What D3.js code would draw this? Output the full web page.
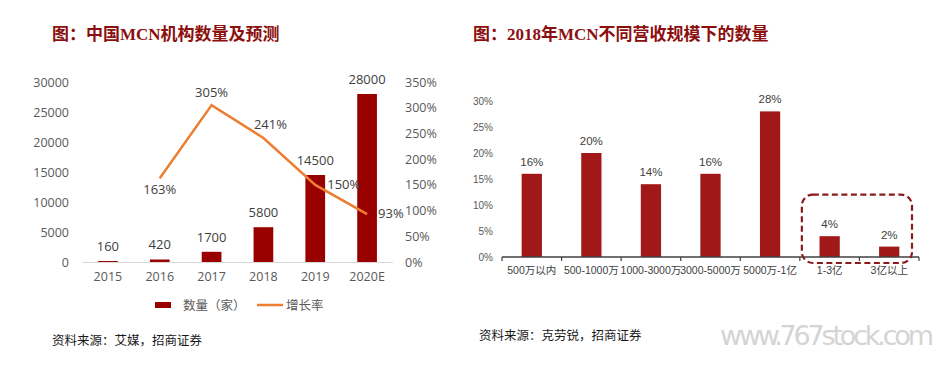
<!DOCTYPE html>
<html>
<head>
<meta charset="utf-8">
<script src="https://cdn.jsdelivr.net/npm/d3@7"></script>
<style>
body{margin:0;background:#fff;}
svg{display:block;}
text{font-family:"Noto Sans CJK SC","Noto Sans",sans-serif;}
.title{font-family:"Liberation Serif","Noto Sans CJK SC",serif;font-weight:bold;font-size:17px;fill:#8c0f0f;}
.src{font-family:"Liberation Serif","Noto Sans CJK SC",serif;font-size:12.5px;fill:#1a1a1a;}
</style>
</head>
<body>
<svg id="chart" width="940" height="365"></svg>
<script>
// left chart: MCN count + growth
var years = ["2015", "2016", "2017", "2018", "2019", "2020E"];
var counts = [160, 420, 1700, 5800, 14500, 28000];
var growth = [null, 1.63, 3.05, 2.41, 1.50, 0.93];
var countTicks = [0, 5000, 10000, 15000, 20000, 25000, 30000];
var growthTicks = [0, 0.5, 1, 1.5, 2, 2.5, 3, 3.5];

// right chart: share by revenue scale, 2018
var revCats = ["500万以内", "500-1000万", "1000-3000万", "3000-5000万", "5000万-1亿", "1-3亿", "3亿以上"];
var revShares = [0.16, 0.20, 0.14, 0.16, 0.28, 0.04, 0.02];
var shareTicks = [0, 0.05, 0.10, 0.15, 0.20, 0.25, 0.30];

var svg = d3.select("#chart");
var pct = d3.format(".0%");

// ---------- left ----------
svg.append("text").attr("class", "title").attr("x", 52).attr("y", 40)
	.text("图：中国MCN机构数量及预测");

var x = d3.scaleBand().domain(years).range([82, 393]).paddingInner(0.62).paddingOuter(0.31);
var yL = d3.scaleLinear().domain([0, 30000]).range([262, 82]);
var yR = d3.scaleLinear().domain([0, 3.5]).range([262, 82]);

var gl = svg.append("g").attr("transform", "translate(69,0)")
	.call(d3.axisLeft(yL).tickValues(countTicks).tickSize(0).tickPadding(0).tickFormat(d3.format("d")));
gl.select(".domain").remove();
gl.selectAll("text").attr("font-size", 12.5).attr("fill", "#595959")
	.style("font-family", "'Open Sans',sans-serif");

var gr = svg.append("g").attr("transform", "translate(405,0)")
	.call(d3.axisRight(yR).tickValues(growthTicks).tickSize(0).tickPadding(0).tickFormat(pct));
gr.select(".domain").remove();
gr.selectAll("text").attr("font-size", 12.5).attr("fill", "#595959")
	.style("font-family", "'Open Sans',sans-serif");

svg.append("g").selectAll("rect").data(counts).join("rect")
	.attr("x", function(d, i){ return x(years[i]); })
	.attr("y", function(d){ return yL(d); })
	.attr("width", x.bandwidth())
	.attr("height", function(d){ return 262 - yL(d); })
	.attr("fill", "#990000");

svg.append("line").attr("x1", 82).attr("x2", 393).attr("y1", 262.5).attr("y2", 262.5)
	.attr("stroke", "#d9d9d9").attr("stroke-width", 1);

svg.append("g").selectAll("text").data(counts).join("text")
	.attr("x", function(d, i){ return x(years[i]) + x.bandwidth() / 2; })
	.attr("y", function(d){ return yL(d) - 10; })
	.attr("text-anchor", "middle").attr("font-size", 13).attr("fill", "#404040")
	.style("font-family", "'Open Sans',sans-serif")
	.text(function(d){ return d; });

var gx = svg.append("g").attr("transform", "translate(0,270)")
	.call(d3.axisBottom(x).tickSize(0).tickPadding(0));
gx.select(".domain").remove();
gx.selectAll("text").attr("font-size", 12.5).attr("fill", "#595959").attr("dy", "0.9em")
	.style("font-family", "'Open Sans',sans-serif");

var pts = [];
growth.forEach(function(g, i){ if(g !== null) pts.push({i: i, v: g}); });

var line = d3.line()
	.x(function(d){ return x(years[d.i]) + x.bandwidth() / 2; })
	.y(function(d){ return yR(d.v); });
svg.append("path").datum(pts).attr("d", line)
	.attr("fill", "none").attr("stroke", "#ed7d31").attr("stroke-width", 2.5);

// label placement for growth line
var off = {1: [0, 16, "middle"], 2: [0, -8, "middle"], 3: [7, -9, "middle"], 4: [12, 4, "start"], 5: [11, 4, "start"]};
svg.append("g").selectAll("text").data(pts).join("text")
	.attr("x", function(d){ return x(years[d.i]) + x.bandwidth() / 2 + off[d.i][0]; })
	.attr("y", function(d){ return yR(d.v) + off[d.i][1]; })
	.attr("text-anchor", function(d){ return off[d.i][2]; })
	.attr("font-size", 13).attr("fill", "#404040")
	.style("font-family", "'Open Sans',sans-serif")
	.text(function(d){ return pct(d.v); });

// legend
var lg = svg.append("g");
lg.append("rect").attr("x", 155).attr("y", 302).attr("width", 16).attr("height", 6).attr("fill", "#990000");
lg.append("text").attr("x", 183).attr("y", 309.5).attr("font-size", 12.5).attr("fill", "#595959").text("数量（家）");
lg.append("line").attr("x1", 257).attr("x2", 283).attr("y1", 305).attr("y2", 305)
	.attr("stroke", "#ed7d31").attr("stroke-width", 2.5);
lg.append("text").attr("x", 286).attr("y", 309.5).attr("font-size", 12.5).attr("fill", "#595959").text("增长率");

svg.append("text").attr("class", "src").attr("x", 52).attr("y", 345).text("资料来源：艾媒，招商证券");

// ---------- right ----------
svg.append("text").attr("class", "title").attr("x", 473).attr("y", 40)
	.text("图：2018年MCN不同营收规模下的数量");

var x2 = d3.scaleBand().domain(revCats).range([502, 919]).paddingInner(0.66).paddingOuter(0.33);
var y2 = d3.scaleLinear().domain([0, 0.30]).range([257, 101]);

var gy2 = svg.append("g").attr("transform", "translate(493,0)")
	.call(d3.axisLeft(y2).tickValues(shareTicks).tickSize(0).tickPadding(0).tickFormat(pct));
gy2.select(".domain").remove();
gy2.selectAll("text").attr("font-size", 10).attr("fill", "#595959")
	.style("font-family", "'Liberation Sans',sans-serif");

svg.append("g").selectAll("rect").data(revShares).join("rect")
	.attr("x", function(d, i){ return x2(revCats[i]); })
	.attr("y", function(d){ return y2(d); })
	.attr("width", x2.bandwidth())
	.attr("height", function(d){ return 257 - y2(d); })
	.attr("fill", "#a01818");

svg.append("g").selectAll("text").data(revShares).join("text")
	.attr("x", function(d, i){ return x2(revCats[i]) + x2.bandwidth() / 2; })
	.attr("y", function(d){ return y2(d) - 8; })
	.attr("text-anchor", "middle").attr("font-size", 11.5).attr("fill", "#404040")
	.style("font-family", "'Liberation Sans',sans-serif")
	.text(function(d){ return pct(d); });

// axis line with boundary ticks
var ax = svg.append("g");
ax.append("line").attr("x1", 502).attr("x2", 919).attr("y1", 257).attr("y2", 257)
	.attr("stroke", "#404040").attr("stroke-width", 1.5);
ax.selectAll("line.tk").data(d3.range(revCats.length + 1)).join("line").attr("class", "tk")
	.attr("x1", function(i){ return 502 + i * x2.step(); })
	.attr("x2", function(i){ return 502 + i * x2.step(); })
	.attr("y1", 257).attr("y2", 261)
	.attr("stroke", "#404040").attr("stroke-width", 1.2);

var gx2 = svg.append("g").attr("transform", "translate(0,266)")
	.call(d3.axisBottom(x2).tickSize(0).tickPadding(0));
gx2.select(".domain").remove();
gx2.selectAll("text").attr("font-size", 10.5).attr("fill", "#404040").attr("dy", "0.75em")
	.style("font-family", "'Liberation Sans','Noto Sans CJK SC',sans-serif");

// highlight box around the top two scales
var bx = x2("1-3亿") - x2.step() * x2.paddingInner() / 2 + 2;
svg.append("rect")
	.attr("x", bx).attr("y", y2(0.12))
	.attr("width", x2.step() * 2 - 9).attr("height", 257 + 6 - y2(0.12))
	.attr("rx", 11).attr("ry", 11)
	.attr("fill", "none").attr("stroke", "#8b1a1a").attr("stroke-width", 2.2)
	.attr("stroke-dasharray", "6,3.5");

svg.append("text").attr("class", "src").attr("x", 479).attr("y", 340).text("资料来源：克劳锐，招商证券");

svg.append("text").attr("x", 720).attr("y", 345).attr("font-size", 27).attr("fill", "#d4d4d4")
	.style("font-family", "'DejaVu Sans',sans-serif").attr("textLength", 214)
	.text("www.767stock.com");
</script>
</body>
</html>
